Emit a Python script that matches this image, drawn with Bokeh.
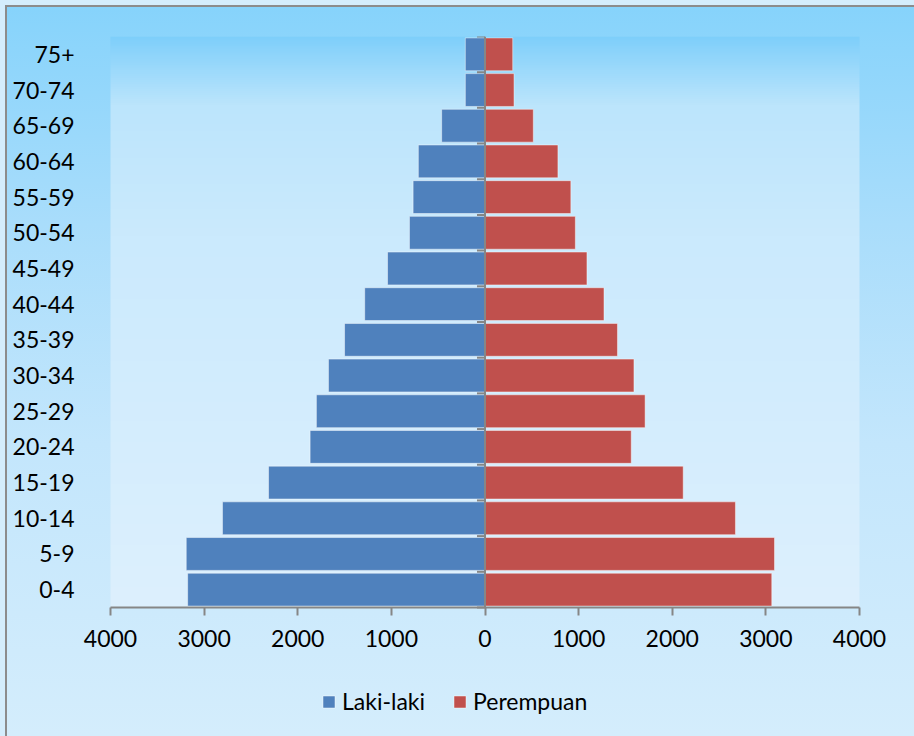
import numpy as np
from bokeh.plotting import figure
from bokeh.models import FixedTicker, Range1d, Legend, LegendItem
from bokeh.embed import file_html
from bokeh.resources import INLINE

# ---- data ----
age_groups = ["0-4", "5-9", "10-14", "15-19", "20-24", "25-29", "30-34", "35-39",
              "40-44", "45-49", "50-54", "55-59", "60-64", "65-69", "70-74", "75+"]
laki_laki = [3176, 3191, 2804, 2312, 1868, 1801, 1672, 1500,
             1285, 1041, 807, 768, 712, 463, 210, 210]
perempuan = [3063, 3092, 2675, 2117, 1562, 1710, 1591, 1415,
             1271, 1089, 965, 917, 779, 516, 310, 296]
x_ticks = [-4000, -3000, -2000, -1000, 0, 1000, 2000, 3000, 4000]

FONT = "Lato"
AXIS_GRAY = "#868686"
BLUE = "#4F81BD"
RED = "#C0504D"

n = len(age_groups)
ycent = [i + 0.5 for i in range(n)]
bounds = list(range(n + 1))
neg_male = [-v for v in laki_laki]

# px per data unit along x is 749/8000; the frame is padded so the end tick labels fit
PAD_L = 320.4
PAD_R = 587.4
p = figure(frame_width=834, frame_height=700, output_backend="svg", toolbar_location=None,
           x_range=Range1d(x_ticks[0] - PAD_L, x_ticks[-1] + PAD_R),
           y_range=Range1d(-3.615, n),
           min_border_left=80, min_border_right=0, min_border_top=36,
           min_border_bottom=0)
p.border_fill_color = None
p.background_fill_color = None
p.outline_line_color = None
line = "linear-gradient(#8C8C8C, #8C8C8C)"
p.styles = {
    "background": (
        f"{line} 5px 5px / 2px 100% no-repeat, "
        f"{line} 5px 5px / 100% 2px no-repeat, "
        "linear-gradient(to bottom, #86D3FB 0%, #A9DDFB 30%, #C3E6FC 60%, #D4EDFC 100%) 5px 5px / 100% 731px no-repeat, "
        "#D4EDFC"
    ),
}

# plot-area gradient background (styling)
rows = 300
t = np.linspace(1, 0, rows)  # row 0 at bottom
stops_t = [0.0, 0.12, 0.35, 1.0]
stops_c = [(0x7E, 0xCF, 0xFA), (0xBC, 0xE5, 0xFC), (0xCB, 0xEA, 0xFD), (0xDD, 0xF0, 0xFD)]
r = np.interp(t, stops_t, [c[0] for c in stops_c]).astype(np.uint32)
g = np.interp(t, stops_t, [c[1] for c in stops_c]).astype(np.uint32)
b = np.interp(t, stops_t, [c[2] for c in stops_c]).astype(np.uint32)
img = (255 << 24) | (b << 16) | (g << 8) | r
img = img.reshape(rows, 1).astype(np.uint32)
p.image_rgba(image=[img], x=x_ticks[0], y=0, dw=x_ticks[-1] - x_ticks[0], dh=n)

# bars
bm = p.hbar(y=ycent, left=neg_male, right=0, height=0.92, fill_color=BLUE,
            line_color="white", line_alpha=0.45, line_width=1)
bf = p.hbar(y=ycent, left=0, right=perempuan, height=0.92, fill_color=RED,
            line_color="white", line_alpha=0.45, line_width=1)

# center vertical axis line at 0 with ticks at category boundaries
p.segment(x0=0, y0=bounds[0], x1=0, y1=bounds[-1], line_color=AXIS_GRAY, line_width=2)
p.ray(x=0, y=bounds, length=8, length_units="screen", angle=np.pi,
      line_color=AXIS_GRAY, line_width=2)

p.xgrid.visible = False
p.ygrid.visible = False

# x axis, drawn at y = 0, spanning -4000..4000
xa = p.xaxis[0]
xa.fixed_location = 0
xa.bounds = (x_ticks[0], x_ticks[-1])
xa.ticker = FixedTicker(ticks=x_ticks)
xa.major_label_overrides = {v: str(abs(v)) for v in x_ticks}
xa.axis_line_color = AXIS_GRAY
xa.axis_line_width = 2
xa.major_tick_line_color = AXIS_GRAY
xa.major_tick_line_width = 2
xa.major_tick_out = 8
xa.major_tick_in = 0
xa.minor_tick_line_color = None
xa.major_label_text_font = FONT
xa.major_label_text_font_size = "23px"
xa.major_label_text_color = "black"
xa.major_label_standoff = 15

# y labels axis (at left)
ya = p.yaxis[0]
ya.ticker = FixedTicker(ticks=ycent)
ya.major_label_overrides = {c: lab for c, lab in zip(ycent, age_groups)}
ya.axis_line_color = None
ya.major_tick_line_color = None
ya.minor_tick_line_color = None
ya.major_label_text_font = FONT
ya.major_label_text_font_size = "23px"
ya.major_label_text_color = "black"
ya.major_label_standoff = 0

legend = Legend(items=[LegendItem(label="Laki-laki", renderers=[bm]),
                       LegendItem(label="Perempuan", renderers=[bf])],
                orientation="horizontal", location=(241, 21),
                label_text_font=FONT, label_text_font_size="23px",
                label_text_color="black", glyph_width=15, glyph_height=15,
                label_standoff=6, spacing=27, border_line_color=None,
                background_fill_color=None, background_fill_alpha=0,
                margin=0, padding=4)
p.add_layout(legend, "center")

open("out.html", "w").write(file_html(p, INLINE))
